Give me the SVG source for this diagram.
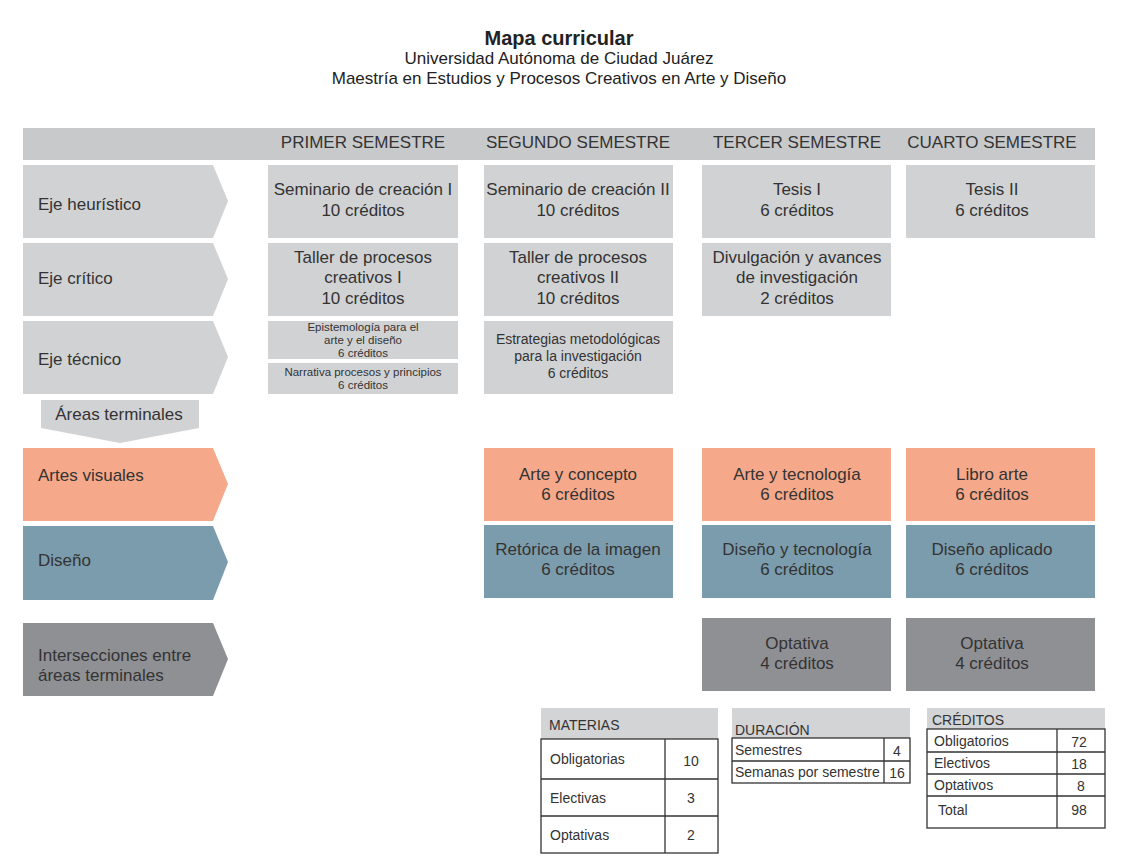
<svg xmlns="http://www.w3.org/2000/svg" width="1122" height="864" viewBox="0 0 1122 864">
<style>
text{font-family:"Liberation Sans",Arial,sans-serif;fill:#333}
.t{font-size:17px;text-anchor:middle}
.l{font-size:17px}
.h{font-size:17px;text-anchor:middle;fill:#333}
.s{font-size:11.5px;text-anchor:middle}
.m{font-size:14px;text-anchor:middle}
.g{fill:#d1d2d4}
.o{fill:#f5a98a}
.b{fill:#7b9cad}
.d{fill:#8f9094}
.tb{font-size:14px}
.c{text-anchor:middle}
.tbl{fill:#fff;stroke:#333;stroke-width:1.3}
.ln{stroke:#333;stroke-width:1.3}
.hd{fill:#d3d4d6}
</style>
<rect width="1122" height="864" fill="#fff"/>
<g id="title">
<text x="559" y="45" style="font-size:20px;font-weight:bold;text-anchor:middle;fill:#222">Mapa curricular</text>
<text x="559" y="64" class="t" style="fill:#222">Universidad Autónoma de Ciudad Juárez</text>
<text x="559" y="84" class="t" style="fill:#222">Maestría en Estudios y Procesos Creativos en Arte y Diseño</text>
</g>
<g id="header">
<rect x="23" y="128" width="1072" height="32" fill="#c8c9cb"/>
<text x="363" y="148" class="h">PRIMER SEMESTRE</text>
<text x="578" y="148" class="h">SEGUNDO SEMESTRE</text>
<text x="797" y="148" class="h">TERCER SEMESTRE</text>
<text x="992" y="148" class="h">CUARTO SEMESTRE</text>
</g>
<g id="row-labels">
<g id="eje-heuristico"><polygon class="g" points="23,165 213,165 228,201 213,238 23,238"/><text x="38" y="210" class="l">Eje heurístico</text></g>
<g id="eje-critico"><polygon class="g" points="23,243 213,243 228,279 213,316 23,316"/><text x="38" y="284" class="l">Eje crítico</text></g>
<g id="eje-tecnico"><polygon class="g" points="23,321 213,321 228,357 213,394 23,394"/><text x="38" y="365" class="l">Eje técnico</text></g>
<g id="areas-terminales"><polygon class="g" points="41,400 199,400 199,428 120,443 41,428"/><text x="119" y="420" class="t">Áreas terminales</text></g>
<g id="artes-visuales"><polygon class="o" points="23,448 213,448 228,484 213,521 23,521"/><text x="38" y="481" class="l">Artes visuales</text></g>
<g id="diseno"><polygon class="b" points="23,526 213,526 228,562 213,600 23,600"/><text x="38" y="566" class="l">Diseño</text></g>
<g id="intersecciones"><polygon class="d" points="23,623 213,623 228,659 213,696 23,696"/><text x="38" y="661" class="l">Intersecciones entre</text><text x="38" y="681" class="l">áreas terminales</text></g>
</g>
<g id="cells">
<g id="sem-creacion-1"><rect class="g" x="268" y="165" width="190" height="73"/><text x="363" y="195" class="t">Seminario de creación I</text><text x="363" y="216" class="t">10 créditos</text></g>
<g id="sem-creacion-2"><rect class="g" x="484" y="165" width="189" height="73"/><text x="578" y="195" class="t">Seminario de creación II</text><text x="578" y="216" class="t">10 créditos</text></g>
<g id="tesis-1"><rect class="g" x="702" y="165" width="189" height="73"/><text x="797" y="195" class="t">Tesis I</text><text x="797" y="216" class="t">6 créditos</text></g>
<g id="tesis-2"><rect class="g" x="906" y="165" width="189" height="73"/><text x="992" y="195" class="t">Tesis II</text><text x="992" y="216" class="t">6 créditos</text></g>
<g id="taller-1"><rect class="g" x="268" y="243" width="190" height="73"/><text x="363" y="263" class="t">Taller de procesos</text><text x="363" y="283" class="t">creativos I</text><text x="363" y="304" class="t">10 créditos</text></g>
<g id="taller-2"><rect class="g" x="484" y="243" width="189" height="73"/><text x="578" y="263" class="t">Taller de procesos</text><text x="578" y="283" class="t">creativos II</text><text x="578" y="304" class="t">10 créditos</text></g>
<g id="divulgacion"><rect class="g" x="702" y="243" width="189" height="73"/><text x="797" y="263" class="t">Divulgación y avances</text><text x="797" y="283" class="t">de investigación</text><text x="797" y="304" class="t">2 créditos</text></g>
<g id="epistemologia"><rect class="g" x="268" y="321" width="190" height="38"/><text x="363" y="331" class="s">Epistemología para el</text><text x="363" y="344" class="s">arte y el diseño</text><text x="363" y="357" class="s">6 créditos</text></g>
<g id="narrativa"><rect class="g" x="268" y="363" width="190" height="31"/><text x="363" y="376" class="s">Narrativa procesos y principios</text><text x="363" y="389" class="s">6 créditos</text></g>
<g id="estrategias"><rect class="g" x="484" y="321" width="189" height="73"/><text x="578" y="344" class="m">Estrategias metodológicas</text><text x="578" y="361" class="m">para la investigación</text><text x="578" y="378" class="m">6 créditos</text></g>
<g id="arte-concepto"><rect class="o" x="484" y="448" width="189" height="73"/><text x="578" y="480" class="t">Arte y concepto</text><text x="578" y="500" class="t">6 créditos</text></g>
<g id="arte-tecnologia"><rect class="o" x="702" y="448" width="189" height="73"/><text x="797" y="480" class="t">Arte y tecnología</text><text x="797" y="500" class="t">6 créditos</text></g>
<g id="libro-arte"><rect class="o" x="906" y="448" width="189" height="73"/><text x="992" y="480" class="t">Libro arte</text><text x="992" y="500" class="t">6 créditos</text></g>
<g id="retorica"><rect class="b" x="484" y="525" width="189" height="73"/><text x="578" y="555" class="t">Retórica de la imagen</text><text x="578" y="575" class="t">6 créditos</text></g>
<g id="diseno-tecnologia"><rect class="b" x="702" y="525" width="189" height="73"/><text x="797" y="555" class="t">Diseño y tecnología</text><text x="797" y="575" class="t">6 créditos</text></g>
<g id="diseno-aplicado"><rect class="b" x="906" y="525" width="189" height="73"/><text x="992" y="555" class="t">Diseño aplicado</text><text x="992" y="575" class="t">6 créditos</text></g>
<g id="optativa-3"><rect class="d" x="702" y="618" width="189" height="73"/><text x="797" y="649" class="t">Optativa</text><text x="797" y="669" class="t">4 créditos</text></g>
<g id="optativa-4"><rect class="d" x="906" y="618" width="189" height="73"/><text x="992" y="649" class="t">Optativa</text><text x="992" y="669" class="t">4 créditos</text></g>
</g>
<g id="connectors"></g>
<g id="materias">
<rect class="hd" x="541" y="708" width="177" height="31"/>
<text x="549" y="730" class="tb">MATERIAS</text>
<rect class="tbl" x="541" y="739" width="177" height="114"/>
<line class="ln" x1="665" y1="739" x2="665" y2="853"/>
<line class="ln" x1="541" y1="779" x2="718" y2="779"/>
<line class="ln" x1="541" y1="816" x2="718" y2="816"/>
<text x="550" y="764" class="tb">Obligatorias</text><text x="691" y="766" class="tb c">10</text>
<text x="550" y="803" class="tb">Electivas</text><text x="691" y="803" class="tb c">3</text>
<text x="550" y="840" class="tb">Optativas</text><text x="691" y="840" class="tb c">2</text>
</g>
<g id="duracion">
<rect class="hd" x="732" y="708" width="178" height="30"/>
<text x="735" y="735" class="tb">DURACIÓN</text>
<rect class="tbl" x="732" y="738" width="178" height="45"/>
<line class="ln" x1="884" y1="738" x2="884" y2="783"/>
<line class="ln" x1="732" y1="761" x2="910" y2="761"/>
<text x="735" y="755" class="tb">Semestres</text><text x="897" y="756" class="tb c">4</text>
<text x="735" y="777" class="tb">Semanas por semestre</text><text x="897" y="778" class="tb c">16</text>
</g>
<g id="creditos">
<rect class="hd" x="927" y="708" width="178" height="21"/>
<text x="932" y="725" class="tb">CRÉDITOS</text>
<rect class="tbl" x="927" y="729" width="178" height="99"/>
<line class="ln" x1="1057" y1="729" x2="1057" y2="828"/>
<line class="ln" x1="927" y1="752" x2="1105" y2="752"/>
<line class="ln" x1="927" y1="774" x2="1105" y2="774"/>
<line class="ln" x1="927" y1="796" x2="1105" y2="796"/>
<text x="934" y="746" class="tb">Obligatorios</text><text x="1079" y="747" class="tb c">72</text>
<text x="934" y="768" class="tb">Electivos</text><text x="1079" y="769" class="tb c">18</text>
<text x="934" y="790" class="tb">Optativos</text><text x="1081" y="791" class="tb c">8</text>
<text x="938" y="815" class="tb">Total</text><text x="1079" y="815" class="tb c">98</text>
</g>
</svg>
